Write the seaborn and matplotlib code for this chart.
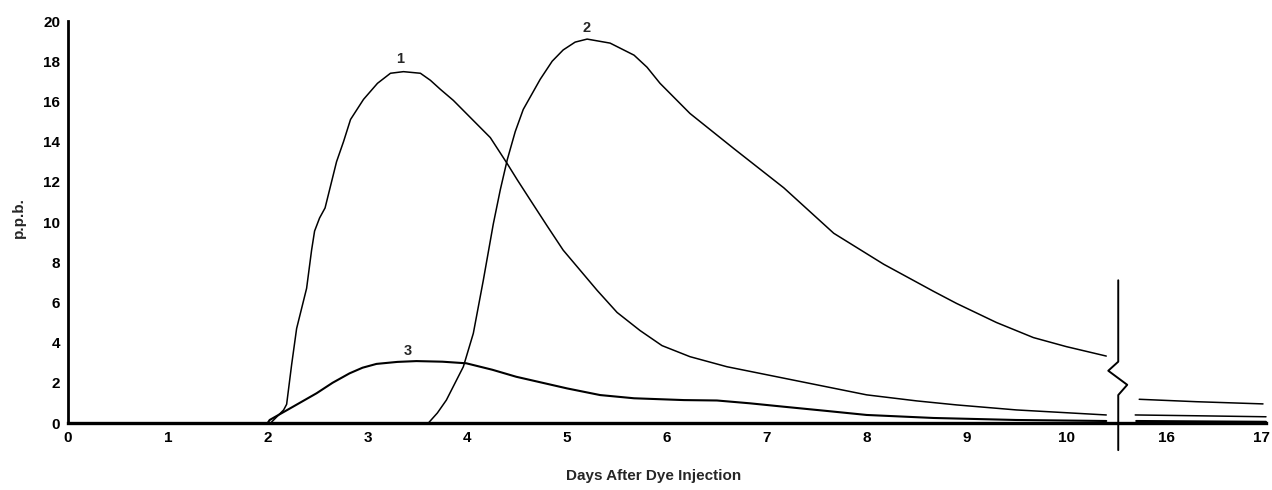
import matplotlib
matplotlib.use("Agg")
import matplotlib.pyplot as plt
import matplotlib.transforms as mtransforms
import seaborn as sns
import pandas as pd
import numpy as np

# ---- data (days after injection, p.p.b.) ----
c1_days = [0, 1.9, 2.03, 2.09, 2.16, 2.19, 2.24, 2.29, 2.39, 2.44, 2.47, 2.52, 2.575, 2.69, 2.76, 2.83,
           2.96, 3.1, 3.23, 3.36, 3.53, 3.63, 3.73, 3.86, 3.99, 4.23, 4.40, 4.50, 4.63, 4.80, 4.96, 5.30,
           5.50, 5.73, 5.95, 6.23, 6.6, 7.0, 7.5, 8.0, 8.5, 8.9, 9.5, 10.4]
c1_ppb = [0, 0, 0, 0.3, 0.65, 0.93, 2.9, 4.7, 6.7, 8.6, 9.55, 10.2, 10.7, 13.0, 14.0, 15.1,
          16.1, 16.9, 17.4, 17.48, 17.4, 17.05, 16.6, 16.05, 15.4, 14.2, 12.9, 12.1, 11.1, 9.8, 8.6, 6.6,
          5.5, 4.6, 3.85, 3.3, 2.8, 2.4, 1.9, 1.4, 1.1, 0.9, 0.65, 0.4]
c1_late_days = [15.69, 16.3, 17.0]
c1_late_ppb = [0.4, 0.36, 0.31]

c2_days = [3.61, 3.7, 3.79, 3.96, 4.06, 4.16, 4.26, 4.33, 4.40, 4.48, 4.56, 4.73, 4.85, 4.96, 5.08, 5.20, 5.43,
           5.67, 5.80, 5.93, 6.23, 6.67, 7.17, 7.67, 8.17, 8.67, 8.9, 9.3, 9.67, 10.0, 10.4]
c2_ppb = [0, 0.5, 1.14, 2.8, 4.46, 7.1, 9.9, 11.6, 13.1, 14.5, 15.6, 17.1, 18.0, 18.56, 18.95, 19.1, 18.9,
          18.3, 17.7, 16.9, 15.4, 13.65, 11.7, 9.44, 7.9, 6.55, 5.95, 5.0, 4.25, 3.8, 3.33]
c2_late_days = [15.73, 16.3, 16.97]
c2_late_ppb = [1.18, 1.06, 0.95]

c3_days = [2.0, 2.02, 2.25, 2.49, 2.65, 2.82, 2.95, 3.09, 3.3, 3.49, 3.75, 3.99, 4.25, 4.49, 5.0, 5.33, 5.67, 6.17,
           6.5, 6.83, 7.17, 7.6, 8.0, 8.67, 9.5, 10.4]
c3_ppb = [0, 0.15, 0.8, 1.48, 2.0, 2.47, 2.75, 2.94, 3.04, 3.08, 3.05, 2.97, 2.65, 2.3, 1.72, 1.39, 1.23, 1.14,
          1.12, 0.98, 0.81, 0.6, 0.4, 0.25, 0.15, 0.1]
c3_late_days = [15.7, 17.0]
c3_late_ppb = [0.1, 0.06]

x_ticks_days = [0, 1, 2, 3, 4, 5, 6, 7, 8, 9, 10, 16, 17]
x_tick_labels = ["0", "1", "2", "3", "4", "5", "6", "7", "8", "9", "10", "16", "17"]
y_ticks = [0, 2, 4, 6, 8, 10, 12, 14, 16, 18, 20]

BREAK_AT = 10.5
GAP = 5.0  # days removed by the axis break (11..15)


def to_axis(d):
    d = np.asarray(d, dtype=float)
    return np.where(d > BREAK_AT, d - GAP, d)


rows = []
for name, seg, days, vals in [
    ("1", "a", c1_days, c1_ppb), ("1", "b", c1_late_days, c1_late_ppb),
    ("2", "a", c2_days, c2_ppb), ("2", "b", c2_late_days, c2_late_ppb),
    ("3", "a", c3_days, c3_ppb), ("3", "b", c3_late_days, c3_late_ppb),
]:
    for d, v in zip(days, vals):
        rows.append({"curve": name, "unit": name + seg, "day": d, "ppb": v})
df = pd.DataFrame(rows)
df["xpos"] = to_axis(df["day"])

sns.set_theme(style="white")
plt.rcParams["font.family"] = ["Liberation Sans", "DejaVu Sans"]
plt.rcParams["font.weight"] = "bold"

fig = plt.figure(figsize=(12.72, 4.90), dpi=100)
ax = fig.add_axes([68 / 1272, 67 / 490, 1198 / 1272, 402 / 490])

for name, lw in [("1", 1.1), ("2", 1.1), ("3", 1.5)]:
    sub = df[df["curve"] == name]
    sns.lineplot(data=sub, x="xpos", y="ppb", units="unit", estimator=None,
                 sort=False, color="black", linewidth=lw, ax=ax, legend=False)
for line in ax.lines:
    line.set_clip_on(False)
    line.set_solid_joinstyle("round")

ax.set_xlim(0, 12)
ax.set_ylim(0, 20)
ax.set_xticks(to_axis(x_ticks_days))
ax.set_xticklabels(x_tick_labels)
ax.set_yticks(y_ticks)
ax.tick_params(axis="both", direction="out", length=4, width=1.5, color="black",
               labelsize=11, pad=1.5, labelcolor="black")
for lab in ax.get_xticklabels() + ax.get_yticklabels():
    lab.set_fontweight("bold")
# keep the last x label inside the canvas
last = ax.get_xticklabels()[-1]
last.set_transform(last.get_transform() +
                   mtransforms.ScaledTranslation(-5 / 100, 0, fig.dpi_scale_trans))

for side in ["top", "right"]:
    ax.spines[side].set_visible(False)
ax.spines["left"].set_linewidth(2.0)
ax.spines["bottom"].set_linewidth(2.4)
ax.spines["left"].set_color("black")
ax.spines["bottom"].set_color("black")

ax.set_xlabel("Days After Dye Injection", fontsize=11, fontweight="bold")
ax.xaxis.set_label_coords(0.489, -0.115)
ax.set_ylabel("p.p.b.", fontsize=11, fontweight="bold")
ax.yaxis.set_label_coords(-0.035, 0.512)

# curve labels
ax.text(3.33, 17.75, "1", ha="center", va="bottom", fontsize=10.5, fontweight="bold")
ax.text(5.19, 19.3, "2", ha="center", va="bottom", fontsize=10.5, fontweight="bold")
ax.text(3.40, 3.25, "3", ha="center", va="bottom", fontsize=10.5, fontweight="bold")

# axis break marker
bx = to_axis([BREAK_AT])[0] + 0.02
ax.plot([bx, bx, bx - 0.1, bx + 0.09, bx, bx],
        [7.1, 3.05, 2.6, 1.9, 1.39, -1.35],
        color="black", linewidth=1.4, clip_on=False)

fig.savefig("out.png", dpi=100, facecolor="white")
